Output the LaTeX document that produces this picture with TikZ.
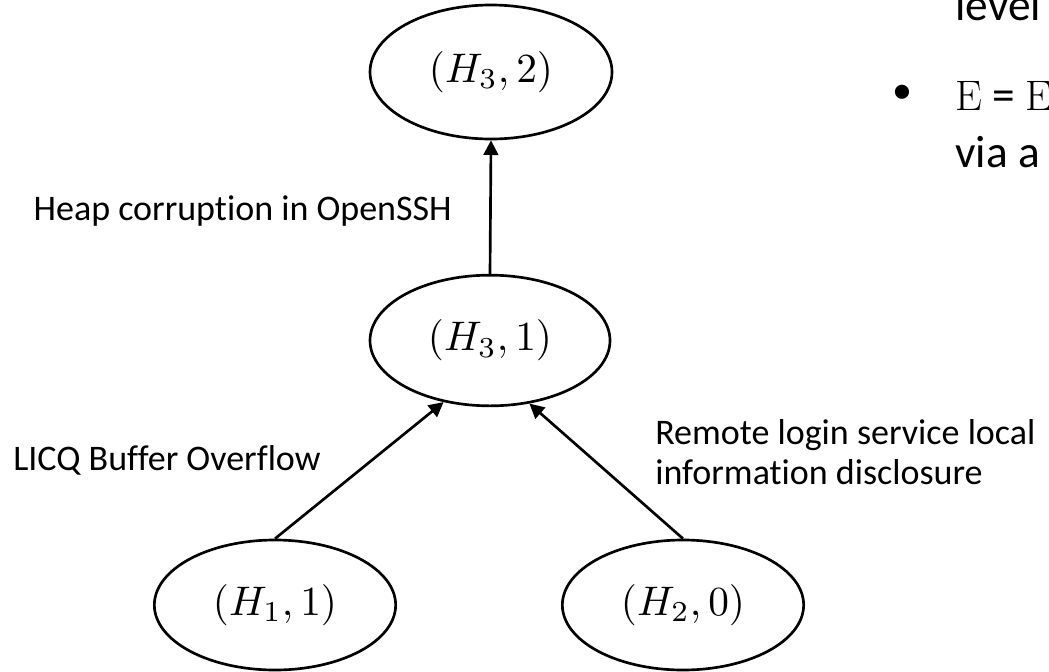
\documentclass[tikz,border=0pt]{standalone}
\usepackage{graphicx}
\usepackage[no-math]{fontspec}
\setmainfont{Carlito}[Ligatures={TeX,NoCommon}]
\newfontfamily\lmroman{Latin Modern Roman}
\usetikzlibrary{arrows.meta,shapes.geometric}
\newcommand{\bigmath}[1]{\raisebox{-4pt}{\scalebox{3.1}{$#1$}}}
\begin{document}
\begin{tikzpicture}[x=0.75pt,y=-0.75pt,
  ell/.style={ellipse, draw, line width=2pt, inner sep=0pt},
  arr/.style={line width=2pt, -{Triangle[length=11pt,width=11pt]}},
  lbl/.style={inner sep=0pt, font=\fontsize{27}{30}\selectfont},
  side/.style={inner sep=0pt, font=\fontsize{34}{40}\selectfont}]
\useasboundingbox (0,0) rectangle (1049,671);
% nodes
\node[ell, minimum width=181.5pt, minimum height=100.5pt] (top) at (491,72) {\bigmath{(H_3,2)}};
\node[ell, minimum width=180pt, minimum height=98pt] (mid) at (490,340.5) {\bigmath{(H_3,1)}};
\node[ell, minimum width=181pt, minimum height=97.5pt] (h1) at (275,605) {\bigmath{(H_1,1)}};
\node[ell, minimum width=181pt, minimum height=97.5pt] (h2) at (683,605) {\bigmath{(H_2,0)}};
% connectors
\draw[arr] (mid.north) -- (top.south);
\draw[arr] (h1.north) -- (mid.233);
\draw[arr] (h2.north) -- (mid.302);
% edge labels
\node[lbl, anchor=base east] (lheap) at (452,220) {Heap corruption in OpenSSH};
\node[lbl, anchor=base west] (llicq) at (13,470) {LICQ Buffer Overflow};
\node[lbl, anchor=west, align=left] (lremote) at (655,452) {Remote login service local\\information disclosure};
% cut-off slide text on the right
\node[side, anchor=base west] (tlevel) at (955,20) {level};
\node[inner sep=0pt, font=\fontsize{30}{36}\selectfont, anchor=center] (tbullet) at (902,94) {•};
\node[side, anchor=base west] (teq) at (955,110) {{\lmroman\fontsize{32}{36}\selectfont E} = {\lmroman\fontsize{32}{36}\selectfont E}};
\node[side, anchor=base west] (tvia) at (955,167) {via a};
\end{tikzpicture}
\end{document}
